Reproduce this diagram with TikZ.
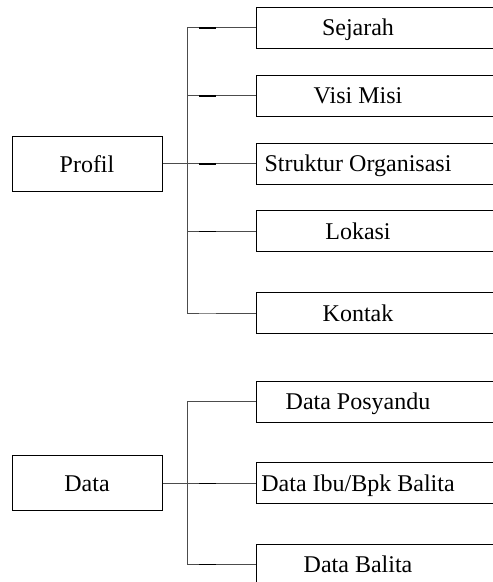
\documentclass[tikz,border=0pt]{standalone}
\usepackage{fontspec}
\setmainfont{Liberation Serif}
\begin{document}
\begin{tikzpicture}[x=1pt,y=-1pt,
  box/.style={draw, line width=1pt, rectangle, inner sep=0pt},
  lbl/.style={font=\fontsize{24}{28}\selectfont, inner sep=0pt, text height=16pt, text depth=0pt},
  conn/.style={draw=black!70, line width=0.7pt},
  tickmark/.style={draw=black, line width=1.4pt},
  lighttick/.style={draw=black!45, line width=1.4pt},
  rbox/.style={box, anchor=west, minimum width=250pt, minimum height=41pt}]
\useasboundingbox (0,0) rectangle (493,582);
\clip (0,0) rectangle (493,582);
% trunk x positions
\coordinate (tr) at (187,0);
\coordinate (ta) at (199,0);
\coordinate (tb) at (216,0);
% Profil group
\node[box, lbl, minimum width=150pt, minimum height=55pt] (profil) at (87,164) {Profil};
\node[rbox] (sejarah) at (256,27.8) {};
\node[rbox] (visi) at (256,95.8) {};
\node[rbox] (struktur) at (256,163.8) {};
\node[rbox] (lokasi) at (256,231.3) {};
\node[rbox] (kontak) at (256,313.3) {};
\node[lbl] (sejarahT) at (358,27.8) {Sejarah};
\node[lbl] (visiT) at (358,95.8) {Visi Misi};
\node[lbl] (strukturT) at (358,163.8) {Struktur Organisasi};
\node[lbl] (lokasiT) at (358,231.3) {Lokasi};
\node[lbl] (kontakT) at (358,313.3) {Kontak};
\draw[conn] (sejarah.west -| tr) -- (kontak.west -| tr);
\draw[conn] (profil.east |- struktur.west) -- (struktur.west);
\foreach \n in {sejarah,visi,lokasi,kontak}{
  \draw[conn] (\n.west -| tr) -- (\n.west);
}
\foreach \n in {sejarah,visi,struktur,lokasi}{
  \draw[tickmark] (\n.west -| ta) -- (\n.west -| tb);
}
\draw[lighttick] (kontak.west -| ta) -- (kontak.west -| tb);
% Data group
\node[box, lbl, minimum width=150pt, minimum height=55pt] (data) at (87,483.3) {Data};
\node[rbox] (posyandu) at (256,401.5) {};
\node[rbox] (ibu) at (256,483.3) {};
\node[rbox] (balita) at (256,564.5) {};
\node[lbl] (posyanduT) at (358,401.5) {Data Posyandu};
\node[lbl] (ibuT) at (358,483.3) {Data Ibu/Bpk Balita};
\node[lbl] (balitaT) at (358,564.5) {Data Balita};
\draw[conn] (posyandu.west -| tr) -- (balita.west -| tr);
\draw[conn] (data.east |- ibu.west) -- (ibu.west);
\foreach \n in {posyandu,balita}{
  \draw[conn] (\n.west -| tr) -- (\n.west);
}
\foreach \n in {ibu,balita}{
  \draw[tickmark] (\n.west -| ta) -- (\n.west -| tb);
}
\end{tikzpicture}
\end{document}
